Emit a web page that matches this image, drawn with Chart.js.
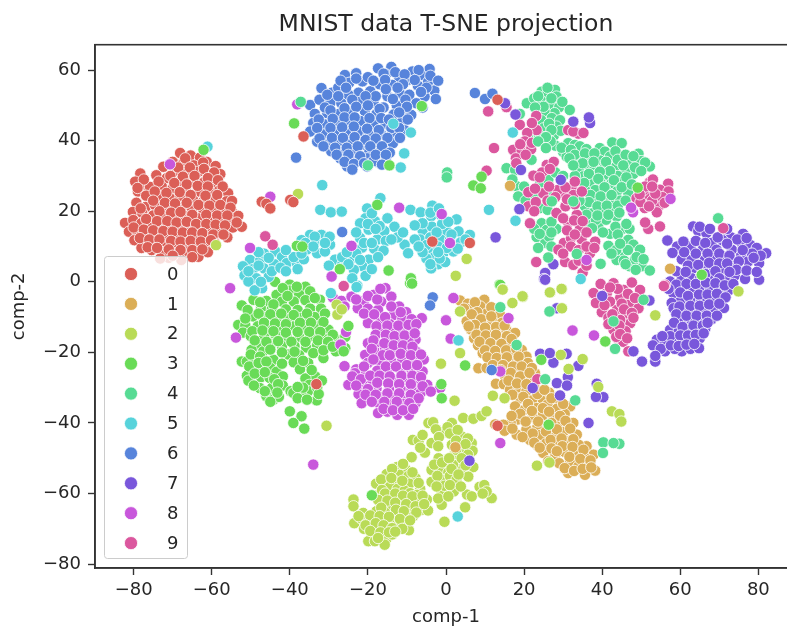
<!DOCTYPE html>
<html>
<head>
<meta charset="utf-8">
<title>MNIST data T-SNE projection</title>
<script src="https://cdn.jsdelivr.net/npm/chart.js@4/dist/chart.umd.min.js"></script>
<style>
    html, body { margin: 0; background: #fff; overflow: hidden; }
    #wrap { width: 787px; height: 628px; overflow: hidden; }
    #tsneChart { display: block; }
</style>
</head>
<body>
<div id="wrap"><canvas id="tsneChart" width="892" height="628"></canvas></div>
<script>
// Values: [comp-1, comp-2]
const labels = ['0', '1', '2', '3', '4', '5', '6', '7', '8', '9'];
const colors = ['#db5f57', '#dbae57', '#b9db57', '#69db57', '#57db94', '#57d3db', '#5784db', '#7957db', '#c857db', '#db579e'];
const xTicks = [-80, -60, -40, -20, 0, 20, 40, 60, 80];
const yTicks = [-80, -60, -40, -20, 0, 20, 40, 60];

const digit0 = [[-68.1,36.5],[-65.4,35.8],[-63,35.2],[-61.3,34],[-59,32.8],[-70,34],[-67.3,33.6],[-64.6,33],[-72.4,32.6],[-69.6,31.4],[-66.8,31],[-63.4,31.2],[-60.5,30.8],[-57.8,30.5],[-78.3,30.7],[-74.2,30.2],[-71.5,29.4],[-68,28.6],[-65,28.9],[-62,28.2],[-59.6,27.8],[-79.6,28.4],[-77.8,27.2],[-75.8,26.9],[-72.8,27],[-70,26.5],[-66.6,26],[-63.5,25.6],[-60.7,25.8],[-58,26],[-55.8,25.1],[-78.9,25.6],[-76.8,24.4],[-73,24.2],[-70.6,23.6],[-68,24],[-64.8,23.2],[-62,23],[-59,23.4],[-56.2,22.8],[-54.8,22.9],[-79.3,22.4],[-76.9,21.2],[-74.5,21.7],[-71.2,21],[-67.5,21.2],[-65,20.4],[-62.2,20.6],[-59.6,20.1],[-57,20.3],[-54.8,19.8],[-80.2,19.8],[-77.8,19.5],[-75,18.8],[-72.4,18.7],[-69.8,18.4],[-66.8,18.6],[-63.6,18],[-60.8,17.9],[-58.2,17.6],[-55.6,17.4],[-53.2,18.7],[-82.2,16.7],[-80.1,17.5],[-78,16.6],[-75.6,16],[-73,16.2],[-70.4,15.8],[-68,15.2],[-65.4,15.6],[-62.6,15.2],[-60,15],[-57.2,14.8],[-54.6,15.4],[-52.3,15.6],[-81.2,14.2],[-79,14],[-76.8,13.4],[-74.2,13.8],[-71.6,13.2],[-69,13],[-66.4,12.6],[-63.8,13],[-61,12.4],[-58.3,13.8],[-56,12.6],[-79.8,11.8],[-77.2,11],[-74.8,10.8],[-72.2,10.6],[-69.4,10.4],[-66.8,10.2],[-64,10.4],[-61.4,10.2],[-59.2,11],[-78,9.6],[-75.4,9],[-72.6,8.4],[-69.4,8.1],[-66.2,8.6],[-63.4,7.1],[-61,8.4],[-71,6.8],[-67.8,6.2],[-73.2,6.6],[-66.8,35],[-62.2,33.8],[-68.6,32.4],[-65.6,32.4],[-62,32],[-59.4,31],[-70.6,30],[-67.4,29.8],[-64.4,30],[-61,29.4],[-58.4,28.8],[-73.6,28.4],[-69.6,28],[-66.4,27.6],[-63.6,27.2],[-61,27],[-57.2,27],[-77.4,29],[-79,26.6],[-74.6,25.6],[-71.6,25.2],[-68.2,25.4],[-65.4,24.6],[-61.6,24.4],[-58.6,24.6],[-75,23],[-72,22.4],[-69.4,22.2],[-66.4,22.4],[-63.4,21.8],[-60.6,21.6],[-57.8,21.8],[-55.2,21],[-78.2,20.8],[-73.4,20],[-70.4,19.6],[-68,19.8],[-65,19],[-61.4,19],[-58.6,18.8],[-56,18.8],[-76.8,17.8],[-74,17.2],[-71.4,17.2],[-69,16.8],[-66.4,17],[-64,16.4],[-61.4,16.4],[-59,16.2],[-56.6,16],[-53.6,16.8],[-80,15.4],[-77.4,14.8],[-75,14.6],[-72.4,14.4],[-70,14.2],[-67.4,14],[-65,14],[-62.4,13.8],[-59.6,13.4],[-57,13.4],[-78.4,12.4],[-76,12],[-73.4,12],[-70.4,11.6],[-68,11.4],[-65.4,11.6],[-62.8,11.4],[-60.2,11.8],[-76.4,9.8],[-74,9.6],[-71,9.2],[-68,9],[-65,9],[-62.4,9.2],[-70,7.4],[-65,7]];
const strays0 = [[-47.2,22.7],[-46,22.1],[-45,20.8],[-39.9,23.2],[-39.1,22.6],[-36.5,41.2],[-3.5,11.4],[13.2,51.6],[6.1,11],[13.2,-40.8],[-33.2,-29]];

const digit1 = [[3.6,-5.3],[5.6,-6.2],[9.8,-5.1],[8.8,-7],[6.5,-7.5],[10.4,-9],[13.8,-9.3],[5.3,-11.2],[7.6,-10.2],[9.3,-12],[12,-11.2],[14.4,-11.6],[6.3,-13.4],[8.4,-14.2],[11,-14.2],[13.2,-13.6],[15.5,-13.7],[17.7,-14.5],[7.2,-16],[9.6,-16.4],[12.2,-16.2],[14.6,-16.2],[8.2,-18],[10.8,-18.8],[13.4,-18.4],[16,-18],[19.4,-19.3],[9.4,-20.2],[12,-20.8],[14.4,-20.6],[17,-20.2],[20.6,-21.2],[8.3,-24.5],[11.3,-22.1],[13.8,-22.8],[16.4,-22.2],[18.6,-23],[21,-23],[10.4,-24.4],[15.8,-24.6],[18,-25.6],[20.5,-25.3],[22.8,-25.9],[12.8,-28.9],[15.2,-26.8],[17.4,-27.6],[19.6,-27.8],[21.6,-27.2],[14.8,-29],[16.4,-30.6],[18.6,-30.2],[20.6,-31],[22.6,-29.8],[24.5,-33],[19,-33],[22,-33.6],[26.4,-31.4],[28.8,-33.4],[26,-34.8],[23.2,-35.8],[17.7,-35.3],[20.2,-36.2],[28.4,-36],[31.8,-35.3],[30.4,-37.4],[24.8,-37.8],[22.2,-38.4],[27.4,-38.6],[18.4,-39],[32.6,-40],[29.6,-40.2],[26.4,-41],[23.4,-41.2],[20.6,-41.8],[16.6,-40.2],[14.7,-40.5],[12.6,-40.4],[18.1,-43.3],[21.5,-44.8],[24.2,-43.4],[27.2,-43.2],[30,-42.6],[33.5,-43.3],[31.4,-45.2],[28.6,-45.6],[25.6,-45.8],[36,-46.6],[34,-46.2],[23.4,-46.4],[24.9,-48.5],[27.9,-49.5],[30.4,-48.2],[33,-48.6],[37.8,-49],[35.4,-49.6],[29,-51.4],[31.8,-51],[33.9,-52.3],[36.6,-51.8],[31.3,-54.2],[35.6,-54.7],[38.2,-53.5],[4.6,-7.6],[7.4,-5.8],[8,-8.6],[11.6,-7.2],[6.6,-9.2],[9,-10.6],[11.6,-9.8],[12.8,-12.8],[15,-12.4],[7.4,-12.2],[10,-13],[5.8,-12.6],[7.8,-15],[10.2,-15.2],[12.8,-15],[15.6,-15.4],[8.6,-17],[11.4,-17.4],[14.2,-17.6],[16.8,-16.2],[10,-19.4],[12.6,-19.6],[15.4,-19.4],[18,-19],[10.6,-21.4],[13,-21.6],[15.6,-21.4],[18.6,-21.2],[12,-23.6],[14.6,-23.6],[17.2,-24],[19.4,-24],[22,-24.4],[14,-25],[16.6,-25.8],[19,-26.8],[21.4,-25.8],[16,-28],[18.2,-28.8],[20.6,-29],[17,-32],[19.8,-32.6],[23.4,-31.8],[25.2,-30.6],[21,-34.6],[24.8,-35.8],[27,-33],[30,-34.6],[19,-37.4],[22,-36.6],[26.4,-36.8],[29.2,-38],[16.8,-38],[20.4,-39.6],[23.6,-39.6],[27,-40],[30.6,-39.4],[31.8,-41.6],[15,-42.2],[17,-41.6],[22.2,-43],[25.6,-42.4],[28.4,-41.8],[19.6,-44],[22.6,-45.6],[26.8,-44.8],[29.6,-44.4],[32.6,-44.6],[24,-47],[27,-47.2],[29.8,-46.6],[32.4,-46.8],[35.2,-47.6],[26.2,-50.8],[28.4,-48],[31.6,-49.6],[34.4,-50.2],[37,-50.6],[30.4,-52.8],[32.8,-53.6],[35,-53],[37.2,-52.6]];
const strays1 = [[16.4,27.2],[57.4,3.7],[2.4,-46.9]];

const digit2 = [[-4.5,-40],[-3.3,-39.8],[-0.7,-42.7],[-2.6,-41.8],[1.5,-40],[0.4,-41.2],[1,-43],[4.4,-38.6],[7,-38.8],[9.1,-38],[10.4,-36.7],[-8.5,-44.8],[-7,-45],[-3.7,-45.7],[-5.4,-48.4],[-8.8,-49.7],[1.5,-46.2],[4,-43.8],[6.6,-45.7],[4,-47.1],[6.8,-47.9],[2.2,-48.8],[-1.9,-50],[-0.4,-52],[7,-52.5],[4,-53],[1.8,-51.8],[-3.7,-53.3],[-1.6,-53.6],[0.6,-54],[-3.7,-56.7],[-1.1,-56.1],[1,-55],[2.7,-56.1],[5.7,-55.2],[2,-59.4],[-1.1,-59.6],[-1.1,-63.2],[5.4,-60.3],[6.6,-60.8],[8.6,-58.1],[9.8,-57.6],[11.7,-61.3],[10.4,-59.4],[4.9,-63.9],[-12.6,-52.5],[-10.4,-53],[-15.2,-54.5],[-11.9,-54.7],[-9.6,-55],[-7.8,-55.6],[-13.4,-56.2],[-17.9,-57.2],[-15.6,-57],[-9.4,-57.2],[-6.6,-58.7],[-14.3,-58],[-12.4,-58.7],[-10.6,-59.2],[-9.2,-59.9],[-7.4,-60.4],[-23.7,-61.7],[-16,-62.7],[-18,-60.6],[-14.4,-60.8],[-12.2,-61.4],[-10.9,-61.7],[-8.4,-62.4],[-6.4,-62],[-4.9,-61.7],[-23.7,-63.6],[-14,-63.6],[-11.6,-63.6],[-9.6,-64.6],[-6.2,-64.6],[-4.6,-64.8],[-21.2,-65.5],[-17.8,-65],[-15.6,-65.4],[-13,-66],[-10.8,-66.4],[-8.4,-66.4],[-23.5,-68.4],[-21.8,-67],[-19.9,-68.4],[-16.5,-67.4],[-14.8,-68.4],[-12.8,-68],[-10.6,-68.2],[-21,-70],[-18,-70],[-15.8,-70.2],[-12.4,-69.3],[-9.5,-70.4],[-19,-71.7],[-19.9,-73.5],[-18.2,-73.5],[-15.3,-72.9],[-15.7,-74.5],[-13.8,-71.6],[-11,-51.6],[-13.8,-53],[-16.6,-56],[-14,-55.6],[-11.2,-56.4],[-8.6,-54],[-7,-57],[-16.4,-59],[-15.6,-60],[-13,-60],[-11,-60.6],[-8.6,-60.8],[-6,-60.6],[-17.4,-61.8],[-15,-62],[-13,-62.6],[-10.2,-63],[-7.8,-63.6],[-5.6,-63],[-16.6,-64],[-12.8,-64.6],[-10.8,-65],[-7.6,-65.4],[-19.4,-66.2],[-22.4,-66.4],[-17,-66.4],[-14.6,-66.6],[-11.8,-67.2],[-9.2,-67.6],[-20.6,-69],[-18,-68.4],[-16,-69],[-13.8,-69.8],[-11.2,-70],[-19.4,-70.6],[-16.8,-71],[-14.6,-71],[-17.4,-72.6],[-13,-70.8],[-1.8,-44],[3,-42],[5.6,-44.4],[2.6,-45],[5,-46],[2.6,-47.6],[5.6,-49],[4,-50],[-3,-51.8],[-1,-51.2],[0.8,-50],[1.4,-53],[3.2,-54.6],[5,-52],[-2.2,-55],[-0.4,-57.8],[1,-57.6],[3.8,-58],[-2.4,-58],[-2,-61.4],[0.6,-60.8],[9.4,-60],[-6,-43.4],[-2,-46.6],[-6.6,-47]];
const strays2 = [[-0.4,-68],[26.7,-3],[29.7,-2.1],[19.7,-4.3],[17,-6],[14.5,-2.1],[3.6,-8.4],[3.6,-20.2],[-1.3,-23.2],[2.2,-33.7],[12,-32.3],[15,-33],[23.3,-52.1],[26.5,-51.2],[29.4,-20.7],[35,-21.9],[31.4,-24.7],[39,-29.8],[42.5,-36.7],[44.4,-37.5],[44.9,-39.6],[29.7,-7.5],[53.6,-9.5],[5.3,6.5],[2.5,1.7],[14.5,-2.2],[26.6,-3],[29.6,-2],[19.6,-4.1],[74.9,-2.7],[-37.9,24.9],[-58.9,10.4],[-30.6,-40.8],[-28,-6.5],[-27.8,-9.3],[-26.7,-7.8]];

const digit3 = [[-43.8,0],[-40,-0.8],[-36,-1.4],[-43.4,-3.7],[-40,-2.5],[-34.8,-2.7],[-37.6,-3.6],[-49.3,-5.1],[-46,-5.4],[-42,-5.6],[-39,-5.6],[-36,-5.2],[-32.3,-5.1],[-52.3,-6.7],[-47.4,-7.6],[-44.6,-7.8],[-41,-7.8],[-38,-8],[-34.8,-7.6],[-32,-7.6],[-49.4,-9.8],[-46.8,-10],[-43.4,-10.2],[-40.4,-10.6],[-37,-10.2],[-33.6,-10],[-53.2,-12.2],[-51.4,-12.4],[-48.2,-12.6],[-45,-12.8],[-42,-13],[-38.8,-12.6],[-36,-13],[-33,-12.6],[-30.1,-13.6],[-52,-14.4],[-50,-15.4],[-46.6,-15.4],[-43.6,-15.2],[-40.8,-15.6],[-37.6,-15.6],[-34.6,-15.4],[-31.6,-15.8],[-28,-16.4],[-25.8,-15.6],[-48.4,-18],[-44.8,-17.6],[-42,-18.2],[-38.8,-18.2],[-35.8,-18.6],[-33,-18],[-28.2,-19.7],[-25.8,-18.8],[-49.8,-19.3],[-46.8,-19.7],[-40.4,-20.6],[-37.6,-20.8],[-31.4,-21.6],[-52.3,-22.6],[-51,-22.6],[-49,-22.2],[-44.2,-22.1],[-39,-22.8],[-35.3,-23],[-47.7,-24.5],[-45,-24.4],[-37.4,-24.8],[-43.4,-25.5],[-51,-26.6],[-47.4,-27],[-45.2,-27.2],[-41.8,-26.8],[-33.5,-26.8],[-36,-27.4],[-50.6,-28],[-47.7,-30.1],[-44.6,-30.1],[-41.8,-29.4],[-31.8,-28],[-35,-29.2],[-39.8,-31],[-35.3,-31],[-39.1,-31.5],[-37,-32.2],[-33.1,-33.6],[-46,-32.4],[-44.2,-33.4],[-42.8,-32.6],[-41.8,-1.8],[-38.2,-1.4],[-47.6,-5.8],[-44.2,-6.4],[-40.6,-4],[-33.6,-4.6],[-50.8,-8],[-48,-9],[-45,-9.2],[-42.2,-9],[-39,-9.4],[-35.6,-9],[-31,-9],[-51.4,-10.4],[-46.6,-11.6],[-43.8,-11.8],[-41,-12],[-37.4,-11.6],[-34.6,-11.6],[-31.4,-11.4],[-49.6,-14],[-47,-13.8],[-44.2,-14],[-41,-14.4],[-38,-14.2],[-35,-14.2],[-32.2,-14.2],[-29,-15],[-49,-16.6],[-46,-17],[-43,-16.8],[-39.6,-17],[-36,-17],[-32.8,-16.6],[-30.2,-17],[-27,-17.6],[-50,-20.6],[-47.6,-21.2],[-45,-19.2],[-42,-20],[-38.8,-19.8],[-34,-20.2],[-31.4,-19.4],[-29,-18.4],[-50.4,-24],[-48,-23],[-46,-22.6],[-42,-23.2],[-36.6,-22.4],[-49,-26],[-46.4,-25.6],[-44,-27.6],[-43,-29],[-34.4,-25],[-33,-30],[-32.6,-31.8],[-36.6,-30],[-38,-29.8],[-49.2,-29.4],[-46.4,-31],[-43.2,-31.4],[-45,-34],[-38,-33],[-35.6,-33.4]];
const strays3 = [[-40,-36.7],[-37,-38.1],[-39.1,-40],[-36.3,-41.6],[-62.1,37.4],[-38.9,44.9],[-38.2,10.2],[-36.8,10],[-14.7,3.2],[-9.2,-0.4],[-9,1],[-27.2,3.6],[-17.6,21.8],[-6.2,49.8],[-14.5,33],[9.1,29.8],[7,27.3],[8.9,26.5],[49.1,26.7],[65.5,2],[13.7,-0.8],[24.4,-22.1],[4.9,-23.7],[-1.1,-33],[-1.2,-29],[26.3,-40.5],[40.8,-16.9],[-19,-60.5],[-8.7,-0.5],[-25,-12.5],[-26.2,-19.7],[13.9,-0.9]];

const digit4 = [[24.5,53.9],[27.9,54.4],[25.8,53],[28.3,52.5],[20.7,50.6],[22.6,52],[24.5,51.1],[26.6,50.4],[29,49.5],[31.7,48.7],[18.9,47.6],[27.8,47.8],[25.2,48.4],[27.1,46.4],[24.4,45.8],[29.2,45.8],[25,43.5],[28.3,44],[22.6,42.6],[25.6,41],[27.6,41.4],[23.6,39.8],[21.6,40.8],[25.6,37.9],[28,38.6],[31.3,39.3],[33,38.8],[34.3,38.4],[36,37.6],[30,36.8],[30.9,35.5],[34.3,35.3],[36.9,35.7],[32.4,33.8],[39.4,37.9],[40.7,36.9],[42.6,39.5],[45,39.3],[42,35.5],[39.4,34.4],[36.2,33.2],[49.3,36.3],[47.1,34.1],[50,34.2],[52.2,32.7],[43.5,32.5],[40.6,32.2],[38,32],[34,31.6],[48,30.6],[46,31.8],[38.6,30.3],[35.2,29.9],[41.6,30.2],[44,30],[21.9,34.6],[15.5,32.2],[17.7,31.7],[24.1,28],[26.2,28.9],[17.9,27.2],[18.5,24.2],[37,28.2],[39.6,28],[42.4,28],[45.4,28.4],[41.1,25.6],[38.2,26],[35.6,26],[43.8,25.6],[46.7,25.1],[27.1,22.8],[24.1,20.9],[26,20.4],[32.6,22.8],[35.6,21.4],[38,23.4],[40.2,22.8],[42,22.8],[44.6,23],[37.7,19.5],[40.4,20.4],[42.6,20.4],[43.7,18.5],[39,15.7],[41,17.6],[36.4,16.6],[38.4,17.6],[45,14.9],[47,15],[42,13.6],[40.2,14],[24.5,16.6],[25.8,14.7],[28.3,15],[23.2,12.7],[25.4,11],[26.4,12.8],[41.6,10.2],[45,7.9],[46.7,11.9],[48,10.5],[49.7,9.1],[43.7,6.2],[45.6,6],[47.1,4.4],[50.1,4.4],[48.4,6.4],[52.2,3.2],[26,55],[23.6,52.6],[27,52],[25,49.6],[29.8,51],[22.8,49.4],[26.4,44.8],[29.4,42.8],[27,43],[23.8,41.6],[25,39.4],[26.8,39.8],[29.6,38],[32,37.4],[33,36],[35.6,36.4],[38,36.4],[31.6,35],[35,33.6],[37.8,34],[41,34],[43.4,37],[44,34.6],[46,36],[48,35.6],[51,33.8],[45.4,33],[48.4,32.4],[50,31.4],[42,31.4],[39.4,31.2],[36.6,30.6],[46.2,29.6],[43,28.8],[39,29.2],[35.4,28],[40.6,26.8],[37,24.6],[39.6,24.2],[42.4,24.6],[45,26.8],[47.6,27.6],[36.6,22.6],[34.2,23],[38.8,21.4],[41.2,21.6],[44,21.6],[46,23],[36,19],[38.8,18.8],[41.6,19],[44.4,19.6],[37.4,15.2],[43.4,15.6],[46.2,16.4],[44,13.4],[27,17],[22.6,15],[27,14],[24,13.6],[27,10],[23.6,9.6],[43.6,9],[42.4,8],[46.6,9],[44.6,10.8],[48.8,7],[50.6,6.4],[46,5],[48.6,3.4],[17,29],[20,27],[20.4,23],[26,25],[23,24],[28,31],[30,30],[33,30],[32.6,33]];
const strays4 = [[39.6,5.1],[26.2,6.9],[33.5,7.9],[69.7,18],[-37.2,51],[25.4,-27.6],[40.3,-45.5],[44.4,-45.9],[42.9,-45.7],[40.2,-48.5],[13.9,-7.2],[18.1,-17.9],[33.1,-33.6],[43.3,-19],[42.9,-11.2],[50.6,-5.1],[26.5,-8.4],[0.3,31],[0.2,29.6],[-20,33],[25.6,41],[23.6,39.8],[25.6,37.9],[27.1,22.8],[32.6,22.8]];

const digit5 = [[-50.2,6.2],[-47.6,6],[-46.6,8],[-52,4.4],[-49.4,3.6],[-46.6,3.8],[-51.6,1.8],[-48.6,1],[-45.4,1.4],[-50.6,0.1],[-47.1,-1.8],[-49,-2.4],[-43.7,8.6],[-42,7],[-40.8,5.3],[-38.2,5.3],[-44,5],[-36.4,6.4],[-34.8,13.3],[-37,11.8],[-31.9,13.3],[-33.4,11.4],[-29.7,10.5],[-33,8.1],[-35.6,9.2],[-31,8.6],[-20.2,20.8],[-16.8,23.7],[-20.6,18],[-18.2,17.2],[-15,18],[-13.2,15.6],[-17.6,12],[-19.8,14.8],[-15.8,14.4],[-18.4,9.4],[-21.5,9.7],[-24.5,6.3],[-28.4,6.3],[-26.6,4.8],[-19.8,6.3],[-21.5,4.5],[-23.6,3.4],[-20.6,1.7],[-22.7,-1.1],[-10.6,10.5],[-9.7,8.1],[-12.4,12.6],[-15.4,11.6],[-22,12.4],[-26.6,7],[-16,8.8],[-32.2,20.4],[-29.5,19.7],[-26.7,19.9],[-31.7,27.4],[-9.1,20.4],[-6.5,19.7],[-3.5,21.6],[-3.8,18.6],[-1.2,18.8],[2.7,17.7],[0.2,14.3],[6.1,13.3],[3.2,14.3],[-0.7,8.1],[1.9,8.6],[-6,14.6],[-3.6,15.6],[-1,16.4],[-6.6,12],[-4,12.6],[-1.4,12],[1,11.8],[3.8,11.2],[-4.2,9.6],[-2,10],[-3,7],[-5,6.6],[-2,5],[-0.2,5.6],[-3.8,3.8],[-48,4.6],[-50.6,3],[-47.4,0],[-44.6,3],[-42.4,4],[-48,8.4],[-45.4,6.8],[-39,7],[-41,9],[-36,11],[-33.6,12.8],[-29.8,12.8],[-34,10],[-31,11],[-37,8],[-38,3.6],[-41,3],[-19,19.4],[-22,16.6],[-17,15.8],[-20,16.4],[-23,14],[-21,11],[-23,8],[-25.4,8.4],[-17.4,7],[-22,6.2],[-25,5],[-19,11],[-14,12],[-30,4.6],[-24,1],[-19,3.6],[-18,15],[-11,14],[-8,12],[-4,19.6],[-1.8,20.8],[0.6,17],[-6,16.6],[-8,16],[-2.4,14],[1.4,13.4],[5,12],[-5,10.4],[0.2,9.6],[3,9.4],[-1.6,6.6],[-4,5],[-2,8.4],[-6,8.4],[-7,10]];
const strays5 = [[-61.1,38.3],[-13.5,44.8],[-9,42.3],[-10.7,36.4],[-11.6,32.4],[17.1,42.3],[11,20.4],[17.8,17.3],[34.5,0.8],[-29.5,-3.2],[-22.9,-1.5],[3.2,-16.6],[3,-66.5]];

const digit6 = [[-34.8,50.1],[-31.9,54.9],[-29.2,53.6],[-25.9,58.6],[-23,59.1],[-24.8,56.4],[-21.4,56.8],[-27.6,55],[-17.4,60.5],[-14,60.9],[-15.4,58.8],[-12,58],[-8.6,59.6],[-4.2,60.3],[-6.4,58.6],[-9.8,57.2],[-4.6,56.6],[-3,54.2],[-7.2,55.6],[-13.8,55.8],[-17,56],[-19.4,54],[-22.4,53.6],[-25,53],[-32.4,51.6],[-29.6,50.8],[-26.8,50.6],[-22,51],[-18.6,50.8],[-15,52.6],[-11.8,53.4],[-9.4,53],[-5.5,52.5],[-7.6,50.6],[-12.6,50],[-16,49.4],[-33.6,47.6],[-30.4,47.8],[-27.4,47.6],[-24.4,48],[-20.8,48.4],[-17.8,47.6],[-13.4,47.4],[-10.6,47.6],[-8.9,47.3],[-34,45],[-31,44.6],[-28,45.2],[-24.8,45.2],[-22,45.6],[-18.6,44.6],[-15.6,44.8],[-11.6,45],[-34.8,42.6],[-31.6,41.8],[-28.6,42.4],[-25.6,42.2],[-22.4,42.6],[-19.8,41.8],[-16.6,41.8],[-13.2,42.2],[-10.6,43],[-33,39.7],[-30,39.2],[-27.4,39.4],[-24.4,39.6],[-21,38.8],[-17.8,39],[-15,39.8],[-13.6,39.3],[-29.4,37],[-26.4,36.6],[-23.6,37],[-19.6,37],[-16.6,37.6],[-27.1,35],[-24.4,34.8],[-20.2,35],[-17.6,34],[-15.4,34.5],[-25.3,32.7],[-20.2,32.7],[-18.6,34.2],[-30.4,53],[-27,57],[-25.6,55],[-23,57.6],[-20,58],[-16,59],[-13,59.4],[-10.6,58.8],[-7,60],[-4,58.4],[-2,57],[-15.6,57.2],[-18.6,57],[-11,56],[-8,57.2],[-2.6,51.8],[-5,55],[-12.4,55],[-15.4,54.6],[-18,52.6],[-20.6,52.6],[-24,51.6],[-27.6,52.6],[-31,49.4],[-29.6,48.6],[-26,49.2],[-23,49.6],[-20,50],[-17,49],[-13.6,51.8],[-10.4,51.6],[-6.4,53.8],[-10,49.6],[-6,49.4],[-32.6,46],[-29,46.2],[-26,46.6],[-23.4,46.6],[-19.6,46.4],[-16.6,46.4],[-14.6,46],[-12,48],[-9.8,46],[-33,43.6],[-29.6,43.6],[-26.6,43.8],[-23.6,44],[-20.2,43.4],[-17.2,43],[-14,43.6],[-12,43.6],[-32.4,40.6],[-29.2,40.8],[-26.4,40.8],[-23.4,41],[-20.6,40.2],[-18,40.6],[-15,40.8],[-11.8,40.8],[-31.4,38.4],[-28.4,38],[-25.4,38],[-22.6,38.4],[-19.4,38.4],[-16.4,38.4],[-14.4,36.6],[-28,36],[-25,36],[-22,35.6],[-18,36],[-15.4,36],[-26,34],[-23.6,33.4],[-21,33.6],[-16.4,33.2],[-24,31.8]];
const strays6 = [[-38.4,35.2],[-26.6,14.1],[7.4,53.5],[10,51.8],[11.9,53.3],[-3.4,-4.4],[-4.1,-6.7],[11.7,-25]];

const digit7 = [[63.3,15.7],[64.6,14.4],[66.7,13.8],[71,13.8],[73,12.6],[76.1,13.6],[75.7,11],[78,10.4],[79.6,9.6],[82,8.1],[80.2,5.3],[56.7,11.7],[59.2,10],[62.7,10],[65.9,9.6],[68,11],[69.3,9.1],[73.2,9.1],[70.8,11.8],[60.4,6.4],[62.9,6.2],[66.3,6.2],[68.8,6.8],[71,7.2],[75.6,7.4],[77.4,5.8],[73.6,4.8],[65.9,3.9],[63,3.6],[68.6,4],[71,3.8],[60.4,1],[62.9,1],[65,0.8],[68,1.6],[71.7,0.4],[74,1.8],[76.6,0.8],[80.2,0.6],[57.4,0.1],[58.2,-3.2],[61,-3.2],[63.4,-2.2],[65.6,-2],[67.6,-1.8],[70,-2],[72.4,-2.4],[60,-5.6],[62.6,-5],[65.4,-5.2],[68,-5],[70.4,-4.8],[57.8,-6],[58.3,-7.5],[61.4,-8],[64,-8.2],[66.6,-8],[69,-7.8],[71.2,-7.4],[60.8,-11.2],[63,-11],[65.6,-11],[68,-10.6],[57.4,-13.6],[59.6,-14],[62,-13.8],[64.4,-13.4],[66.4,-13.2],[54,-16.4],[58.3,-16.9],[60.6,-16.6],[63,-16.4],[65,-16],[56.1,-19.7],[60.4,-19.7],[62.6,-19],[64.8,-18.8],[58.6,-19],[56,-17.4],[65,15.6],[67.6,15],[72,15],[74.6,12],[77,12.4],[80.6,7.4],[78.4,8],[76,9],[60.8,11.4],[64,11.6],[66.4,11],[69.6,12.6],[72,10.8],[58,8.2],[61,8.4],[64,8],[67,8],[70,8],[72.6,7.4],[78.8,6.8],[75,5.8],[62,4.6],[64.6,4.8],[67.4,5.4],[70,5.2],[72,5.2],[74.4,3.4],[77,3.2],[79.6,2.8],[59,3],[61.4,2.8],[66.4,2.2],[69,3],[72.6,2.8],[70,1],[59,-0.8],[61.6,-0.6],[64,-0.6],[66.6,-0.2],[69,-0.4],[71.4,-1],[73.6,-0.6],[57,-2],[60,-3],[62,-4],[64.8,-3.6],[67,-3.6],[69.4,-3.4],[71.6,-4.4],[59.8,-7],[62.6,-6.8],[65,-6.8],[67.4,-6.4],[70,-6.2],[59,-9.2],[61.6,-9.6],[64.2,-9.6],[66.8,-9.6],[69.4,-9.6],[58.4,-11.6],[60.6,-12.8],[63.4,-12.4],[65.8,-12.4],[67,-11.6],[57.4,-15.4],[60,-15.2],[62,-15.2],[64,-15],[66,-14.6],[55.4,-15.4],[53,-18],[55,-19],[57.6,-18],[59.6,-18.2],[61.6,-17.8],[63.6,-17.6]];
const strays7 = [[12.7,12.6],[19.2,31.7],[29.4,28.9],[18.8,20.6],[36.9,45],[36.6,46.6],[32.6,45.4],[15.1,50.6],[17.8,47.4],[25.4,2.5],[27.5,5],[25.1,0.8],[24.1,-20.4],[27.5,-22.9],[30.9,-20.4],[26.6,-20.2],[33.9,-23.8],[31.2,-27],[28.4,-28.7],[31,-29.4],[22.2,-30.1],[29.2,-32.2],[36.5,-40],[40.3,-32.7],[38.6,-28.9],[38.4,-32.6],[6,-50.7],[28.4,-7.5],[25.4,0.6],[48,-19.7],[50.2,-22.6],[52.1,-5.3],[53.6,-22.6],[53.6,-21],[40,-4]];

const digit8 = [[-29,-4.4],[-26.8,-5.4],[-24.2,-4.2],[-21,-5.4],[-18.5,-3.7],[-15.5,-1.8],[-16.6,-5.6],[-22.6,-7.5],[-20,-7.6],[-17.4,-8],[-12,-7],[-10.2,-8.6],[-13.4,-9.4],[-19.6,-10],[-11.2,-10.6],[-6.2,-10.3],[-20,-11.7],[-16.8,-11.4],[-14.4,-12],[-9.1,-13.6],[-16.2,-13.6],[-13,-14],[-11,-13.8],[-7.8,-16.4],[-14.6,-16.2],[-12,-16.6],[-9.6,-16.8],[-20,-17.4],[-17.2,-18],[-20.7,-20.7],[-18,-20],[-15.6,-19],[-12.8,-19.6],[-10,-19.4],[-7.6,-19.8],[-20,-23],[-16.8,-22.6],[-14,-22.6],[-11.2,-21.8],[-8.2,-22.4],[-5.7,-22],[-26,-23.9],[-23,-24.8],[-21,-26],[-17.6,-25.2],[-14.8,-25.4],[-11.6,-25],[-8.8,-25],[-6,-25.4],[-23.3,-25.9],[-19,-28],[-16,-27.8],[-13,-27.8],[-10.2,-27.8],[-7.4,-28.2],[-25,-29.2],[-21.4,-29.2],[-17.8,-30.2],[-14.6,-30.4],[-11.6,-30.4],[-8.8,-30.6],[-4.8,-29.2],[-6.5,-31.5],[-22.4,-31.8],[-19.4,-32.4],[-16,-32.6],[-13.2,-32.8],[-10.4,-33],[-21.6,-34.4],[-17.2,-34.4],[-14,-34.8],[-11,-34.6],[-7.8,-34.4],[-17.4,-37.2],[-15,-36.8],[-12.5,-37.7],[-9.5,-37.7],[-26,-7],[-23,-5],[-20,-4],[-17.6,-5],[-14,-4.2],[-14,-7],[-21,-9],[-18.4,-9.2],[-15.6,-10],[-11.6,-8.6],[-8.8,-10.6],[-17.8,-12.6],[-15,-12.4],[-12.2,-12.4],[-9.6,-12.2],[-7.6,-12],[-18,-15],[-15.4,-15],[-13.2,-15.4],[-10.6,-15.2],[-8,-14.6],[-18.6,-16.6],[-15.8,-17.4],[-13.4,-18],[-11,-18],[-8.6,-18.4],[-19,-19],[-16.2,-20.8],[-14.4,-20.8],[-11.6,-20.4],[-9,-20.8],[-6.4,-20.6],[-18.6,-22],[-15.4,-24],[-12.8,-24],[-10,-23.6],[-7.4,-23.6],[-21,-24],[-24,-26.8],[-21.8,-27.6],[-19.4,-26.6],[-17,-26.6],[-14.4,-26.8],[-11.4,-26.6],[-8.6,-26.6],[-6.4,-27],[-23,-29.4],[-20,-30.4],[-17.6,-28.6],[-14.8,-28.8],[-12,-29],[-9,-29],[-6,-29.6],[-20.6,-32],[-18,-32],[-15,-31.6],[-12,-31.6],[-9,-32],[-7,-33],[-19,-34],[-15.8,-34],[-12.6,-34],[-9.4,-34.4],[-16,-36],[-13.6,-36.4],[-11,-36.4],[-8.4,-36]];
const strays8 = [[-70.7,33.3],[-45,24.1],[-38.1,50.3],[-12,21],[-50.2,9.6],[-55.3,-1.8],[-29.3,1.5],[-24.2,10.2],[-16.8,-2],[-53.8,-15.8],[-34,-51.8],[47.9,19.7],[47.4,21],[57.5,23.5],[36,6.2],[-1.1,19.2],[1,11],[0,-10.9],[1.2,-16.1],[1.9,-4.6],[13.9,-45.7],[13.9,-25.4],[32.4,-13.8],[37.9,-15.2],[-1.5,-30.1],[-3.9,-31.1],[16,-10.3],[-25.6,-14.2],[-27,-17.8]];

const digit9 = [[10.8,48.3],[15.5,49.5],[18.9,44.5],[23.1,47],[23.2,43],[20.8,42.2],[20.2,39.8],[17.2,37.4],[19.4,37.2],[21.8,37.6],[17.9,35],[31.3,43],[33.9,42],[32.6,42.6],[35.2,42.2],[25.8,33.1],[27.6,34],[24.6,31],[22.4,30.1],[21.1,25.4],[24.9,25.1],[32.2,27],[30,25.1],[32.6,24.6],[34.8,25.6],[28.6,26],[21.1,21.4],[28.3,19.5],[30.6,21.4],[33.5,19],[21.5,16.6],[31.3,16.8],[34.3,15],[34.7,12.1],[30.2,11],[32,12.4],[28.8,9.1],[38.2,11.4],[36.9,8.1],[30.5,5.6],[32.6,4.8],[35,2.6],[23.1,5.6],[52.2,28.2],[56.9,27.8],[54.8,26.1],[51.8,24.5],[48.8,23.7],[50.6,26],[54.8,21.8],[52.8,23],[50.9,20.9],[54,19.7],[51.8,15],[51,16.8],[54.8,15.7],[71,15.2],[37.8,-3.2],[39.6,-0.6],[42.9,-0.4],[45.5,-2.3],[41.2,-3.2],[47.6,-0.2],[49.7,-2.3],[47.2,-6],[49.3,-7.5],[44.6,-4.6],[39.9,-8.6],[43.8,-7.9],[42,-5.6],[38.4,-6],[46,-9],[41.6,-10.2],[47.2,-11.7],[44.6,-10.8],[46,-14],[44.2,-16.4],[42.9,-13.6],[45.4,-17],[46.7,-19.7],[43.6,-15.6],[22,45],[22,39.4],[19,39],[20.4,36],[18,33.6],[26.6,32],[24,29.6],[22.8,26.4],[23,22.6],[26,23],[28,24],[30.6,26.8],[33,28.4],[26.4,27],[31,23.4],[33,22],[22.6,20],[30,18],[32.8,17.4],[35,17.2],[31,14.6],[33,13.4],[36,14],[32,10],[34,9],[36,10],[30,8],[38,9.6],[34,6],[36,4.6],[51,27],[53,29],[57,25.6],[55.4,24],[49.8,22.6],[52,21.4],[53.6,25],[52.8,27],[56,22.4],[49.6,24.8],[44,-2],[42,-1.6],[46.6,-3.4],[48.4,-4.6],[45,-6.2],[40.6,-6.6],[42.6,-9.2],[45.6,-7.8],[47.6,-8.8],[44.4,-12.4],[48,-10.2],[44.6,-14.8],[46.4,-16],[41.6,-12]];
const strays9 = [[12.3,37.9],[10.4,31.5],[56.1,-0.9],[-46.3,12.9],[-44.4,10.5],[-26.2,-1.2],[55.8,-1.2],[23.4,-27.6]];

const clusters = [digit0, digit1, digit2, digit3, digit4, digit5, digit6, digit7, digit8, digit9];
const strays = [strays0, strays1, strays2, strays3, strays4, strays5, strays6, strays7, strays8, strays9];
// which cluster sits on top where they overlap, lower number is drawn later
const clusterOrder = [16, 12, 17, 18, 14, 13, 15, 19, 20, 11];

// small inline legend, matplotlib puts it inside the axes at lower left
const legendPlugin = {
    id: 'insideLegend',
    afterDraw(chart) {
        const ctx = chart.ctx;
        ctx.save();
        ctx.beginPath();
        ctx.roundRect(104.5, 256.5, 83, 302, 3);
        ctx.fillStyle = 'rgba(255,255,255,0.8)';
        ctx.fill();
        ctx.strokeStyle = '#cccccc';
        ctx.lineWidth = 1;
        ctx.stroke();
        ctx.font = '18px "DejaVu Sans"';
        ctx.textBaseline = 'middle';
        labels.forEach((label, i) => {
            const y = 274 + i * 29.9;
            ctx.beginPath();
            ctx.arc(131, y, 6.6, 0, Math.PI * 2);
            ctx.fillStyle = colors[i];
            ctx.fill();
            ctx.strokeStyle = '#fff';
            ctx.lineWidth = 0.8;
            ctx.stroke();
            ctx.fillStyle = '#262626';
            ctx.fillText(label, 167, y + 1);
        });
        ctx.restore();
    }
};

// Chart.js only draws left and bottom borders, so stroke the whole frame
const framePlugin = {
    id: 'frame',
    afterDatasetsDraw(chart) {
        const { ctx, chartArea } = chart;
        ctx.save();
        ctx.strokeStyle = '#333333';
        ctx.lineWidth = 1.6;
        ctx.strokeRect(chartArea.left, chartArea.top, chartArea.right - chartArea.left, chartArea.bottom - chartArea.top);
        ctx.restore();
    }
};

const datasets = [];
clusters.forEach((points, i) => {
    datasets.push({ label: labels[i], data: points.map(p => ({ x: p[0], y: p[1] })), backgroundColor: colors[i], order: clusterOrder[i] });
});
strays.forEach((points, i) => {
    datasets.push({ label: labels[i] + ' strays', data: points.map(p => ({ x: p[0], y: p[1] })), backgroundColor: colors[i], order: 1 });
});

const tickFont = { family: '"DejaVu Sans"', size: 18 };
const dash = v => String(v).replace('-', '\u2212');

new Chart(document.getElementById('tsneChart').getContext('2d'), {
    type: 'scatter',
    data: { datasets },
    options: {
        responsive: false,
        animation: false,
        elements: { point: { radius: 5.7, borderColor: '#ffffff', borderWidth: 0.8 } },
        plugins: {
            legend: { display: false },
            tooltip: { enabled: false },
            title: {
                display: true,
                text: 'MNIST data T-SNE projection',
                color: '#262626',
                font: { family: '"DejaVu Sans"', size: 23.5, weight: 'normal' },
                padding: { top: 10.5, bottom: 6 }
            }
        },
        scales: {
            x: {
                type: 'linear',
                min: -89.9,
                max: 89.9,
                afterBuildTicks: s => { s.ticks = xTicks.map(v => ({ value: v })); },
                afterFit: s => { s.height = 60; },
                grid: { drawOnChartArea: false, tickLength: 7, tickColor: '#333333', tickWidth: 1.4 },
                border: { color: '#333333', width: 1.6 },
                ticks: { color: '#262626', font: tickFont, padding: 5, maxRotation: 0, callback: dash },
                title: { display: true, text: 'comp-1', color: '#262626', font: tickFont, padding: { top: 0, bottom: 0 } }
            },
            y: {
                min: -81.1,
                max: 67.2,
                afterBuildTicks: s => { s.ticks = yTicks.map(v => ({ value: v })); },
                afterFit: s => { s.width = 95; },
                grid: { drawOnChartArea: false, tickLength: 7, tickColor: '#333333', tickWidth: 1.4 },
                border: { color: '#333333', width: 1.6 },
                ticks: { color: '#262626', font: tickFont, padding: 7, callback: dash },
                title: { display: true, text: 'comp-2', color: '#262626', font: tickFont, padding: { top: 9, bottom: 0 } }
            },
            // empty right axis, only there so the plot runs past the window edge like the original
            spacer: {
                position: 'right',
                afterFit: s => { s.width = 95; },
                grid: { display: false },
                border: { display: false },
                ticks: { display: false }
            }
        }
    },
    plugins: [framePlugin, legendPlugin]
});
</script>
</body>
</html>
